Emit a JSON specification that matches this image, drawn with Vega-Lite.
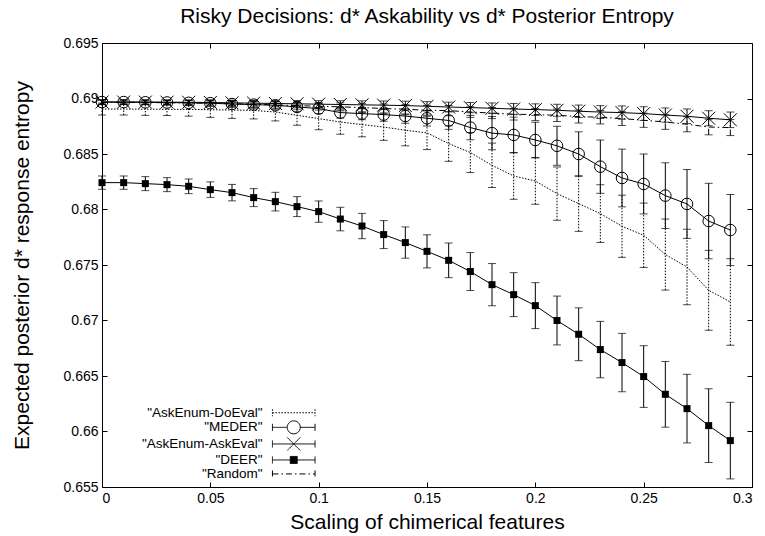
{
"$schema": "https://vega.github.io/schema/vega-lite/v6.json",
"width": 650, "height": 444,
"autosize": "none",
"padding": {"left": 102, "top": 43, "right": 13, "bottom": 49},
"title": {"text": "Risky Decisions: d* Askability vs d* Posterior Entropy", "fontSize": 21, "fontWeight": "normal", "font": "Liberation Sans", "color": "black", "offset": 9},
"config": {
  "font": "Liberation Sans",
  "view": {"stroke": "black", "strokeWidth": 1},
  "axis": {"grid": false, "domainColor": "black", "tickColor": "black", "labelColor": "black", "titleColor": "black", "labelFont": "Liberation Sans", "labelFontSize": 14, "titleFont": "Liberation Sans", "titleFontSize": 21, "titleFontWeight": "normal", "tickSize": -5, "labelPadding": 9, "domainWidth": 1, "tickWidth": 1},
  "legend": {"title": null, "orient": "none", "legendX": 185, "legendY": 363, "labelAlign": "right", "labelOffset": -38,
          "labelFontSize": 13.5, "labelFont": "Liberation Sans", "labelColor": "black", "labelLimit": 400,
          "symbolSize": 100, "symbolStrokeWidth": 1, "symbolOpacity": 1, "symbolStrokeColor": "black", "rowPadding": -1.4, "padding": 0}
},
"datasets": {"rows": [
{"s":"DEER","x":0,"y":0.68242,"e":0.0006},{"s":"DEER","x":0.01,"y":0.68242,"e":0.0006},{"s":"DEER","x":0.02,"y":0.68233,"e":0.00063},{"s":"DEER","x":0.03,"y":0.68224,"e":0.00063},{"s":"DEER","x":0.04,"y":0.68209,"e":0.00066},{"s":"DEER","x":0.05,"y":0.68179,"e":0.0007},{"s":"DEER","x":0.06,"y":0.68152,"e":0.00074},{"s":"DEER","x":0.07,"y":0.68107,"e":0.00081},{"s":"DEER","x":0.08,"y":0.68071,"e":0.00084},{"s":"DEER","x":0.09,"y":0.68026,"e":0.0009},{"s":"DEER","x":0.1,"y":0.67981,"e":0.00096},{"s":"DEER","x":0.11,"y":0.67914,"e":0.00106},{"s":"DEER","x":0.12,"y":0.67851,"e":0.00114},{"s":"DEER","x":0.13,"y":0.67774,"e":0.00126},{"s":"DEER","x":0.14,"y":0.67702,"e":0.00141},{"s":"DEER","x":0.15,"y":0.67623,"e":0.00149},{"s":"DEER","x":0.16,"y":0.67542,"e":0.00156},{"s":"DEER","x":0.17,"y":0.67441,"e":0.00171},{"s":"DEER","x":0.18,"y":0.67323,"e":0.0019},{"s":"DEER","x":0.19,"y":0.67233,"e":0.00198},{"s":"DEER","x":0.2,"y":0.67134,"e":0.00207},{"s":"DEER","x":0.21,"y":0.67,"e":0.0022},{"s":"DEER","x":0.22,"y":0.66876,"e":0.00238},{"s":"DEER","x":0.23,"y":0.66738,"e":0.00254},{"s":"DEER","x":0.24,"y":0.66621,"e":0.00263},{"s":"DEER","x":0.25,"y":0.66495,"e":0.00278},{"s":"DEER","x":0.26,"y":0.66335,"e":0.00296},{"s":"DEER","x":0.27,"y":0.66206,"e":0.00309},{"s":"DEER","x":0.28,"y":0.66053,"e":0.00332},{"s":"DEER","x":0.29,"y":0.65918,"e":0.00345},
{"s":"MEDER","x":0,"y":0.68968,"e":0.0002},{"s":"MEDER","x":0.01,"y":0.68968,"e":0.0002},{"s":"MEDER","x":0.02,"y":0.68966,"e":0.0002},{"s":"MEDER","x":0.03,"y":0.68964,"e":0.00022},{"s":"MEDER","x":0.04,"y":0.68961,"e":0.00025},{"s":"MEDER","x":0.05,"y":0.68958,"e":0.00028},{"s":"MEDER","x":0.06,"y":0.6895,"e":0.0003},{"s":"MEDER","x":0.07,"y":0.68945,"e":0.00033},{"s":"MEDER","x":0.08,"y":0.68939,"e":0.00036},{"s":"MEDER","x":0.09,"y":0.68924,"e":0.0004},{"s":"MEDER","x":0.1,"y":0.68909,"e":0.00045},{"s":"MEDER","x":0.11,"y":0.68873,"e":0.0005},{"s":"MEDER","x":0.12,"y":0.68864,"e":0.00055},{"s":"MEDER","x":0.13,"y":0.68855,"e":0.0006},{"s":"MEDER","x":0.14,"y":0.68842,"e":0.00065},{"s":"MEDER","x":0.15,"y":0.68822,"e":0.0007},{"s":"MEDER","x":0.16,"y":0.68802,"e":0.0008},{"s":"MEDER","x":0.17,"y":0.68738,"e":0.0011},{"s":"MEDER","x":0.18,"y":0.68688,"e":0.0015},{"s":"MEDER","x":0.19,"y":0.68672,"e":0.0016},{"s":"MEDER","x":0.2,"y":0.68626,"e":0.0016},{"s":"MEDER","x":0.21,"y":0.68574,"e":0.00176},{"s":"MEDER","x":0.22,"y":0.685,"e":0.002},{"s":"MEDER","x":0.23,"y":0.68386,"e":0.0024},{"s":"MEDER","x":0.24,"y":0.68284,"e":0.0026},{"s":"MEDER","x":0.25,"y":0.6823,"e":0.0027},{"s":"MEDER","x":0.26,"y":0.68125,"e":0.00296},{"s":"MEDER","x":0.27,"y":0.6805,"e":0.0031},{"s":"MEDER","x":0.28,"y":0.67896,"e":0.0034},{"s":"MEDER","x":0.29,"y":0.67815,"e":0.0032},
{"s":"AskEnum-AskEval","x":0,"y":0.68968,"e":0.0002},{"s":"AskEnum-AskEval","x":0.01,"y":0.68968,"e":0.0002},{"s":"AskEnum-AskEval","x":0.02,"y":0.68968,"e":0.0002},{"s":"AskEnum-AskEval","x":0.03,"y":0.68967,"e":0.0002},{"s":"AskEnum-AskEval","x":0.04,"y":0.68966,"e":0.0002},{"s":"AskEnum-AskEval","x":0.05,"y":0.68964,"e":0.00022},{"s":"AskEnum-AskEval","x":0.06,"y":0.68961,"e":0.00024},{"s":"AskEnum-AskEval","x":0.07,"y":0.68958,"e":0.00026},{"s":"AskEnum-AskEval","x":0.08,"y":0.68955,"e":0.00028},{"s":"AskEnum-AskEval","x":0.09,"y":0.68952,"e":0.0003},{"s":"AskEnum-AskEval","x":0.1,"y":0.68949,"e":0.00032},{"s":"AskEnum-AskEval","x":0.11,"y":0.68946,"e":0.00034},{"s":"AskEnum-AskEval","x":0.12,"y":0.68943,"e":0.00036},{"s":"AskEnum-AskEval","x":0.13,"y":0.6894,"e":0.00038},{"s":"AskEnum-AskEval","x":0.14,"y":0.68936,"e":0.0004},{"s":"AskEnum-AskEval","x":0.15,"y":0.6893,"e":0.00042},{"s":"AskEnum-AskEval","x":0.16,"y":0.68923,"e":0.00044},{"s":"AskEnum-AskEval","x":0.17,"y":0.68918,"e":0.00046},{"s":"AskEnum-AskEval","x":0.18,"y":0.68912,"e":0.00048},{"s":"AskEnum-AskEval","x":0.19,"y":0.68905,"e":0.0005},{"s":"AskEnum-AskEval","x":0.2,"y":0.689,"e":0.00052},{"s":"AskEnum-AskEval","x":0.21,"y":0.68894,"e":0.00054},{"s":"AskEnum-AskEval","x":0.22,"y":0.68885,"e":0.00056},{"s":"AskEnum-AskEval","x":0.23,"y":0.68878,"e":0.00058},{"s":"AskEnum-AskEval","x":0.24,"y":0.68873,"e":0.0006},{"s":"AskEnum-AskEval","x":0.25,"y":0.68864,"e":0.00062},{"s":"AskEnum-AskEval","x":0.26,"y":0.68851,"e":0.00064},{"s":"AskEnum-AskEval","x":0.27,"y":0.6884,"e":0.00066},{"s":"AskEnum-AskEval","x":0.28,"y":0.68822,"e":0.00068},{"s":"AskEnum-AskEval","x":0.29,"y":0.68808,"e":0.0007},
{"s":"Random","x":0,"y":0.68965,"e":0.0002},{"s":"Random","x":0.01,"y":0.68965,"e":0.0002},{"s":"Random","x":0.02,"y":0.68964,"e":0.0002},{"s":"Random","x":0.03,"y":0.68962,"e":0.0002},{"s":"Random","x":0.04,"y":0.6896,"e":0.00022},{"s":"Random","x":0.05,"y":0.68957,"e":0.00024},{"s":"Random","x":0.06,"y":0.68953,"e":0.00026},{"s":"Random","x":0.07,"y":0.68948,"e":0.00028},{"s":"Random","x":0.08,"y":0.68942,"e":0.0003},{"s":"Random","x":0.09,"y":0.68936,"e":0.00032},{"s":"Random","x":0.1,"y":0.6893,"e":0.00034},{"s":"Random","x":0.11,"y":0.68925,"e":0.00036},{"s":"Random","x":0.12,"y":0.68918,"e":0.00038},{"s":"Random","x":0.13,"y":0.6891,"e":0.0004},{"s":"Random","x":0.14,"y":0.68903,"e":0.00042},{"s":"Random","x":0.15,"y":0.68894,"e":0.00044},{"s":"Random","x":0.16,"y":0.68891,"e":0.00046},{"s":"Random","x":0.17,"y":0.68878,"e":0.00048},{"s":"Random","x":0.18,"y":0.68869,"e":0.0005},{"s":"Random","x":0.19,"y":0.68858,"e":0.00052},{"s":"Random","x":0.2,"y":0.68855,"e":0.00054},{"s":"Random","x":0.21,"y":0.68849,"e":0.00056},{"s":"Random","x":0.22,"y":0.68837,"e":0.00058},{"s":"Random","x":0.23,"y":0.68831,"e":0.0006},{"s":"Random","x":0.24,"y":0.68819,"e":0.00062},{"s":"Random","x":0.25,"y":0.68804,"e":0.00064},{"s":"Random","x":0.26,"y":0.68788,"e":0.00066},{"s":"Random","x":0.27,"y":0.68768,"e":0.00068},{"s":"Random","x":0.28,"y":0.68743,"e":0.0007},{"s":"Random","x":0.29,"y":0.68738,"e":0.00072},
{"s":"AskEnum-DoEval","x":0,"y":0.68905,"e":0.00054},{"s":"AskEnum-DoEval","x":0.01,"y":0.68905,"e":0.00054},{"s":"AskEnum-DoEval","x":0.02,"y":0.68904,"e":0.00056},{"s":"AskEnum-DoEval","x":0.03,"y":0.68903,"e":0.00056},{"s":"AskEnum-DoEval","x":0.04,"y":0.68901,"e":0.0006},{"s":"AskEnum-DoEval","x":0.05,"y":0.68899,"e":0.00069},{"s":"AskEnum-DoEval","x":0.06,"y":0.68896,"e":0.00075},{"s":"AskEnum-DoEval","x":0.07,"y":0.68893,"e":0.00077},{"s":"AskEnum-DoEval","x":0.08,"y":0.68878,"e":0.0008},{"s":"AskEnum-DoEval","x":0.09,"y":0.68849,"e":0.0009},{"s":"AskEnum-DoEval","x":0.1,"y":0.68819,"e":0.001},{"s":"AskEnum-DoEval","x":0.11,"y":0.68788,"e":0.0011},{"s":"AskEnum-DoEval","x":0.12,"y":0.68765,"e":0.0011},{"s":"AskEnum-DoEval","x":0.13,"y":0.68743,"e":0.0012},{"s":"AskEnum-DoEval","x":0.14,"y":0.68714,"e":0.0014},{"s":"AskEnum-DoEval","x":0.15,"y":0.6869,"e":0.0015},{"s":"AskEnum-DoEval","x":0.16,"y":0.68594,"e":0.0016},{"s":"AskEnum-DoEval","x":0.17,"y":0.68513,"e":0.0018},{"s":"AskEnum-DoEval","x":0.18,"y":0.68398,"e":0.002},{"s":"AskEnum-DoEval","x":0.19,"y":0.68302,"e":0.0021},{"s":"AskEnum-DoEval","x":0.2,"y":0.68257,"e":0.0021},{"s":"AskEnum-DoEval","x":0.21,"y":0.68143,"e":0.0024},{"s":"AskEnum-DoEval","x":0.22,"y":0.68053,"e":0.0025},{"s":"AskEnum-DoEval","x":0.23,"y":0.67963,"e":0.0026},{"s":"AskEnum-DoEval","x":0.24,"y":0.67849,"e":0.0028},{"s":"AskEnum-DoEval","x":0.25,"y":0.67768,"e":0.0029},{"s":"AskEnum-DoEval","x":0.26,"y":0.67594,"e":0.0032},{"s":"AskEnum-DoEval","x":0.27,"y":0.67482,"e":0.0034},{"s":"AskEnum-DoEval","x":0.28,"y":0.67272,"e":0.0036},{"s":"AskEnum-DoEval","x":0.29,"y":0.67167,"e":0.0039}
]},
"data": {"name": "rows"},
"resolve": {"axis": {"x": "independent", "y": "independent"}},
"layer": [
  {
    "encoding": {
      "x": {"field": "x", "type": "quantitative", "title": "Scaling of chimerical features",
            "scale": {"domain": [0, 0.3], "nice": false, "zero": false, "padding": 0},
            "axis": {"values": [0, 0.05, 0.1, 0.15, 0.2, 0.25, 0.3], "format": "~g", "titlePadding": 6}},
      "y": {"field": "y", "type": "quantitative", "title": "Expected posterior d* response entropy",
            "scale": {"domain": [0.655, 0.695], "nice": false, "zero": false, "padding": 0},
            "axis": {"values": [0.655, 0.66, 0.665, 0.67, 0.675, 0.68, 0.685, 0.69, 0.695], "format": "~g", "titlePadding": 30}}
    },
    "layer": [
      {
        "transform": [{"filter": {"field": "s", "oneOf": ["MEDER", "AskEnum-AskEval", "DEER"]}}],
        "mark": {"type": "line", "color": "black", "strokeWidth": 1},
        "encoding": {"detail": {"field": "s"}}
      },
      {
        "transform": [{"filter": {"field": "s", "equal": "AskEnum-DoEval"}}],
        "mark": {"type": "line", "color": "black", "strokeWidth": 1, "strokeDash": [1.5, 1.5]}
      },
      {
        "transform": [{"filter": {"field": "s", "equal": "Random"}}],
        "mark": {"type": "line", "color": "black", "strokeWidth": 1, "strokeDash": [6, 3, 1.5, 3]}
      },
      {
        "transform": [{"filter": {"field": "s", "oneOf": ["MEDER", "AskEnum-AskEval", "DEER"]}}],
        "mark": {"type": "errorbar", "ticks": {"size": 8}, "color": "black", "rule": {"strokeWidth": 1}},
        "encoding": {"yError": {"field": "e"}}
      },
      {
        "transform": [{"filter": {"field": "s", "equal": "AskEnum-DoEval"}}],
        "mark": {"type": "errorbar", "ticks": {"size": 8, "strokeDash": [1, 1]}, "color": "black", "rule": {"strokeWidth": 1, "strokeDash": [1.5, 1.5]}},
        "encoding": {"yError": {"field": "e"}}
      },
      {
        "transform": [{"filter": {"field": "s", "equal": "Random"}}],
        "mark": {"type": "errorbar", "ticks": {"size": 8, "strokeDash": [3, 1]}, "color": "black", "rule": {"strokeWidth": 1, "strokeDash": [6, 3, 1.5, 3]}},
        "encoding": {"yError": {"field": "e"}}
      },
      {
        "transform": [{"filter": {"field": "s", "equal": "MEDER"}}],
        "mark": {"type": "point", "shape": "circle", "filled": false, "size": 133, "color": "black", "strokeWidth": 1, "opacity": 1}
      },
      {
        "transform": [{"filter": {"field": "s", "equal": "AskEnum-AskEval"}}],
        "mark": {"type": "point", "shape": "M-1,-1L1,1M1,-1L-1,1", "filled": false, "size": 169, "color": "black", "strokeWidth": 1, "opacity": 1}
      },
      {
        "transform": [{"filter": {"field": "s", "equal": "DEER"}}],
        "mark": {"type": "point", "shape": "square", "filled": true, "size": 49, "color": "black", "opacity": 1}
      }
    ]
  },
  {
    "transform": [{"filter": {"field": "s", "equal": "none"}}],
    "mark": {"type": "point", "opacity": 1, "size": 100, "filled": true, "stroke": "black", "strokeWidth": 1},
    "encoding": {
      "x": {"field": "x", "type": "quantitative", "axis": {"orient": "top", "labels": false, "title": null, "domain": false, "values": [0, 0.05, 0.1, 0.15, 0.2, 0.25, 0.3]}},
      "y": {"field": "y", "type": "quantitative", "axis": {"orient": "right", "labels": false, "title": null, "domain": false, "values": [0.655, 0.66, 0.665, 0.67, 0.675, 0.68, 0.685, 0.69, 0.695]}},
      "shape": {"field": "s", "type": "nominal",
        "scale": {"domain": ["AskEnum-DoEval", "MEDER", "AskEnum-AskEval", "DEER", "Random"],
          "range": [
            "M-4.26,0H4.26M-4.26,-0.7V0.7M4.26,-0.7V0.7",
            "M-4.26,0H-1.3M1.3,0H4.26M-4.26,-0.7V0.7M4.26,-0.7V0.7M1.3,0A1.3,1.3,0,1,1,-1.3,0A1.3,1.3,0,1,1,1.3,0",
            "M-4.26,0H4.26M-4.26,-0.7V0.7M4.26,-0.7V0.7M-1.3,-1.3L1.3,1.3M1.3,-1.3L-1.3,1.3",
            "M-4.26,0H4.26M-4.26,-0.7V0.7M4.26,-0.7V0.7M-0.7,-0.7H0.7V0.7H-0.7Z",
            "M-4.26,0H4.26M-4.26,-0.7V0.7M4.26,-0.7V0.7"
          ]},
        "legend": {"labelExpr": "'\"' + datum.label + '\"'", "encode": {"symbols": {"update": {"stroke": {"value": "black"}, "strokeWidth": {"value": 1}, "opacity": {"value": 1}, "strokeOpacity": {"value": 1}}}}}
      },
      "strokeDash": {"field": "s", "type": "nominal",
        "scale": {"domain": ["AskEnum-DoEval", "MEDER", "AskEnum-AskEval", "DEER", "Random"],
          "range": [[1.5, 1.5], [1, 0], [1, 0], [1, 0], [6, 3, 1.5, 3]]},
        "legend": {"labelExpr": "'\"' + datum.label + '\"'", "encode": {"symbols": {"update": {"stroke": {"value": "black"}, "strokeWidth": {"value": 1}, "opacity": {"value": 1}, "strokeOpacity": {"value": 1}}}}}},
      "fill": {"field": "s", "type": "nominal",
        "scale": {"domain": ["AskEnum-DoEval", "MEDER", "AskEnum-AskEval", "DEER", "Random"],
          "range": ["transparent", "transparent", "transparent", "black", "transparent"]},
        "legend": {"labelExpr": "'\"' + datum.label + '\"'", "encode": {"symbols": {"update": {"stroke": {"value": "black"}, "strokeWidth": {"value": 1}, "opacity": {"value": 1}, "strokeOpacity": {"value": 1}}}}}}
    }
  }
]
}
